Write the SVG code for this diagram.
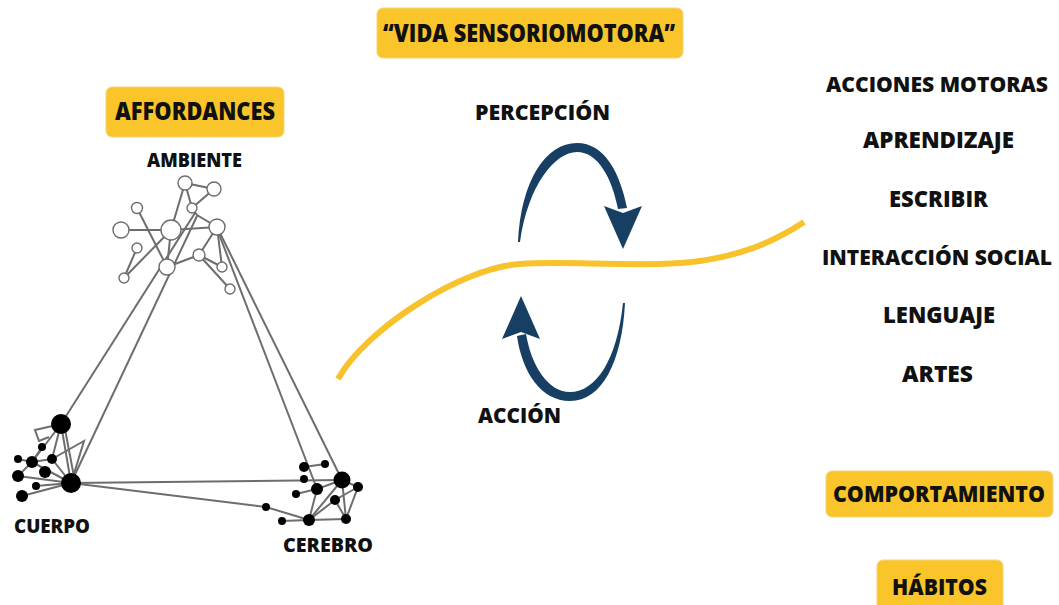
<svg xmlns="http://www.w3.org/2000/svg" width="1059" height="605" viewBox="0 0 1059 605">
<style>
.t{font-family:"Open Sans","Liberation Sans",sans-serif;font-weight:800;fill:#111;text-anchor:middle}
.box{fill:#FAC42B;stroke:#f3d57a;stroke-width:1}
.e{stroke:#6d6d6d;stroke-width:2;fill:none}
.o{fill:#fff;stroke:#6d6d6d;stroke-width:1.4}
.b{fill:#000}
.arw{fill:#173E63}
</style>
<rect width="1059" height="605" fill="#fff"/>

<g id="title">
<rect class="box" x="377" y="8" width="306" height="50" rx="6"/>
<text class="t" x="529" y="42" font-size="24" textLength="292" lengthAdjust="spacingAndGlyphs">“VIDA SENSORIOMOTORA”</text>
</g>
<g id="affordances">
<rect class="box" x="106" y="87" width="178" height="50" rx="6"/>
<text class="t" x="195" y="120" font-size="24" textLength="160" lengthAdjust="spacingAndGlyphs">AFFORDANCES</text>
</g>
<g id="ambiente-label"><text class="t" x="194.5" y="167" font-size="19" textLength="95" lengthAdjust="spacingAndGlyphs">AMBIENTE</text></g>
<g id="cuerpo-label"><text class="t" x="52" y="533" font-size="19" textLength="76" lengthAdjust="spacingAndGlyphs">CUERPO</text></g>
<g id="cerebro-label"><text class="t" x="328" y="552" font-size="19" textLength="90" lengthAdjust="spacingAndGlyphs">CEREBRO</text></g>
<g id="percepcion"><text class="t" x="542.5" y="120" font-size="21.5" textLength="135" lengthAdjust="spacingAndGlyphs">PERCEPCIÓN</text></g>
<g id="accion"><text class="t" x="519.5" y="423" font-size="21.5" textLength="83" lengthAdjust="spacingAndGlyphs">ACCIÓN</text></g>

<g id="list">
<text class="t" x="937" y="92" font-size="21" textLength="222" lengthAdjust="spacingAndGlyphs">ACCIONES MOTORAS</text>
<text class="t" x="938.5" y="148" font-size="22.5" textLength="151" lengthAdjust="spacingAndGlyphs">APRENDIZAJE</text>
<text class="t" x="938.5" y="207" font-size="22.5" textLength="99" lengthAdjust="spacingAndGlyphs">ESCRIBIR</text>
<text class="t" x="937" y="265" font-size="21" textLength="230" lengthAdjust="spacingAndGlyphs">INTERACCIÓN SOCIAL</text>
<text class="t" x="939" y="323" font-size="22.5" textLength="112" lengthAdjust="spacingAndGlyphs">LENGUAJE</text>
<text class="t" x="937.5" y="382" font-size="22.5" textLength="71" lengthAdjust="spacingAndGlyphs">ARTES</text>
</g>
<g id="comportamiento">
<rect class="box" x="826" y="471" width="227" height="46" rx="6"/>
<text class="t" x="939" y="502" font-size="22.5" textLength="212" lengthAdjust="spacingAndGlyphs">COMPORTAMIENTO</text>
</g>
<g id="habitos">
<rect class="box" x="877" y="560" width="126" height="56" rx="6"/>
<text class="t" x="939.5" y="595" font-size="22.5" textLength="95" lengthAdjust="spacingAndGlyphs">HÁBITOS</text>
</g>

<g id="connectors">
<path d="M338,379 C365,330 460,268 520,264 C560,261.3 600,265 660,264 C720,263 765,248 804,222" fill="none" stroke="#F8C22C" stroke-width="6"/>
<path class="arw" d="M518,242 C521,180 546,143 577,143 C604,143 620,172 627,208 L618,209 C612,178 598,152 577,152 C555,152 528,185 520,242 Z"/>
<polygon class="arw" points="604,206 623,213 642,206 623,249"/>
<path class="arw" d="M625,303 C622,362 602,401 570,401 C541,401 522,372 517,336 L526,334 C531,364 547,392 570,392 C596,392 617,360 623,303 Z"/>
<polygon class="arw" points="502,339 521,332 540,339 521,296"/>
</g>

<g id="network-edges">
<line class="e" x1="185" y1="183" x2="214" y2="189"/>
<line class="e" x1="185" y1="183" x2="192" y2="208"/>
<line class="e" x1="214" y1="189" x2="192" y2="208"/>
<line class="e" x1="185" y1="183" x2="171" y2="230"/>
<polyline class="e" points="192,208 197,215 217,227"/>
<line class="e" x1="121" y1="230" x2="171" y2="230"/>
<line class="e" x1="171" y1="230" x2="217" y2="227"/>
<line class="e" x1="137" y1="208" x2="167" y2="267"/>
<line class="e" x1="124" y1="278" x2="171" y2="230"/>
<line class="e" x1="137" y1="248" x2="124" y2="278"/>
<line class="e" x1="171" y1="230" x2="167" y2="267"/>
<line class="e" x1="167" y1="267" x2="199" y2="255"/>
<line class="e" x1="199" y1="255" x2="217" y2="227"/>
<line class="e" x1="199" y1="255" x2="222" y2="267"/>
<line class="e" x1="199" y1="255" x2="230" y2="289"/>
<line class="e" x1="217" y1="227" x2="222" y2="267"/>
<line class="e" x1="195" y1="213" x2="61" y2="424"/>
<line class="e" x1="197" y1="216" x2="71" y2="483"/>
<line class="e" x1="217" y1="227" x2="342" y2="480"/>
<line class="e" x1="219" y1="234" x2="317" y2="489"/>
<line class="e" x1="71" y1="483" x2="342" y2="480"/>
<line class="e" x1="71" y1="483" x2="266" y2="507"/>
<polyline class="e" points="61,424 35,430 39,441 49,437"/>
<line class="e" x1="61" y1="424" x2="32" y2="462"/>
<line class="e" x1="61" y1="424" x2="52" y2="459"/>
<line class="e" x1="61" y1="424" x2="71" y2="483"/>
<line class="e" x1="64" y1="424" x2="75" y2="482"/>
<polyline class="e" points="52,459 84,441 73,477"/>
<line class="e" x1="42" y1="447" x2="32" y2="462"/>
<line class="e" x1="18" y1="459" x2="32" y2="462"/>
<line class="e" x1="32" y1="462" x2="52" y2="459"/>
<line class="e" x1="32" y1="462" x2="18" y2="476"/>
<line class="e" x1="18" y1="476" x2="71" y2="483"/>
<line class="e" x1="32" y1="462" x2="71" y2="483"/>
<line class="e" x1="52" y1="459" x2="71" y2="483"/>
<line class="e" x1="36" y1="486" x2="71" y2="483"/>
<line class="e" x1="22" y1="496" x2="71" y2="483"/>
<line class="e" x1="304" y1="467" x2="325" y2="464"/>
<line class="e" x1="296" y1="494" x2="317" y2="489"/>
<line class="e" x1="317" y1="489" x2="342" y2="480"/>
<line class="e" x1="317" y1="489" x2="309" y2="520"/>
<line class="e" x1="309" y1="520" x2="335" y2="500"/>
<line class="e" x1="335" y1="500" x2="358" y2="487"/>
<line class="e" x1="346" y1="519" x2="342" y2="480"/>
<line class="e" x1="346" y1="519" x2="358" y2="487"/>
<line class="e" x1="335" y1="500" x2="346" y2="519"/>
<line class="e" x1="266" y1="507" x2="309" y2="520"/>
<line class="e" x1="282" y1="521" x2="309" y2="520"/>
<line class="e" x1="309" y1="520" x2="346" y2="519"/>
<line class="e" x1="342" y1="480" x2="358" y2="487"/>
<line class="e" x1="309" y1="520" x2="342" y2="480"/>
</g>

<g id="ambiente">
<circle class="o" cx="185" cy="183" r="7"/>
<circle class="o" cx="214" cy="189" r="7"/>
<circle class="o" cx="192" cy="208" r="5"/>
<circle class="o" cx="137" cy="208" r="5.5"/>
<circle class="o" cx="171" cy="230" r="10"/>
<circle class="o" cx="217" cy="227" r="8"/>
<circle class="o" cx="121" cy="230" r="8"/>
<circle class="o" cx="137" cy="248" r="5"/>
<circle class="o" cx="199" cy="255" r="6"/>
<circle class="o" cx="167" cy="267" r="8"/>
<circle class="o" cx="222" cy="267" r="5"/>
<circle class="o" cx="124" cy="278" r="5"/>
<circle class="o" cx="230" cy="289" r="5"/>
</g>
<g id="cuerpo">
<circle class="b" cx="61" cy="424" r="10"/>
<circle class="b" cx="71" cy="483" r="10"/>
<circle class="b" cx="42" cy="447" r="4"/>
<circle class="b" cx="18" cy="459" r="4"/>
<circle class="b" cx="32" cy="462" r="6"/>
<circle class="b" cx="52" cy="459" r="5"/>
<circle class="b" cx="18" cy="476" r="6"/>
<circle class="b" cx="45" cy="472" r="6"/>
<circle class="b" cx="36" cy="486" r="4"/>
<circle class="b" cx="22" cy="496" r="6"/>
</g>
<g id="cerebro">
<circle class="b" cx="342" cy="480" r="8.5"/>
<circle class="b" cx="317" cy="489" r="6"/>
<circle class="b" cx="304" cy="467" r="5"/>
<circle class="b" cx="325" cy="464" r="4"/>
<circle class="b" cx="304" cy="479" r="4"/>
<circle class="b" cx="296" cy="494" r="4"/>
<circle class="b" cx="358" cy="487" r="5"/>
<circle class="b" cx="335" cy="500" r="5"/>
<circle class="b" cx="266" cy="507" r="4"/>
<circle class="b" cx="282" cy="521" r="4"/>
<circle class="b" cx="309" cy="520" r="6"/>
<circle class="b" cx="346" cy="519" r="5"/>
</g>
</svg>
